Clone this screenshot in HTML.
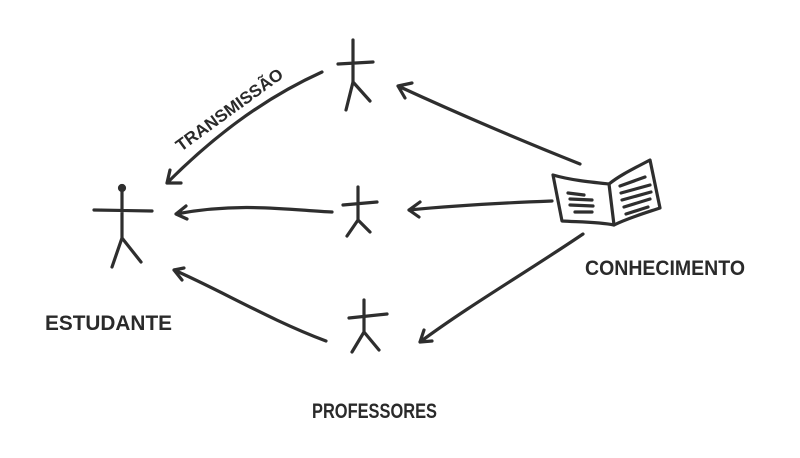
<!DOCTYPE html>
<html><head><style>
html,body{margin:0;padding:0;background:#fff;}
svg{display:block}
text{font-family:"Liberation Sans",sans-serif;fill:#2a2a2a;}
</style></head><body>
<svg width="800" height="458" viewBox="0 0 800 458" xmlns="http://www.w3.org/2000/svg">
<g stroke="#2e2e2e" stroke-width="3.2" fill="none" stroke-linecap="round" stroke-linejoin="round">
<!-- estudante -->
<circle cx="122" cy="188" r="2.5" fill="#2e2e2e"/>
<path d="M122 188 L122 238 M94 210 L152 211 M122 238 L112 267 M122 238 L141 262"/>
<!-- top prof -->
<path d="M353 40 L353 82 M338 64 L373 62 M353 82 L346 110 M353 82 L370 101"/>
<!-- mid prof -->
<path d="M358 187 L358 220 M343 205 L377 202 M358 220 L347 236 M358 220 L370 232"/>
<!-- bottom prof -->
<path d="M364 300 L364 332 M349 318 L387 314 M364 332 L352 352 M364 332 L379 350"/>
<!-- arrows -->
<path d="M322 72 C260 100 210 140 167 183 M167 183 L170 170 M167 183 L181 183"/>
<path d="M332 212 C290 210 240 202 176 214 M176 214 L186 206 M176 214 L187 219"/>
<path d="M326 341 C270 320 220 290 174 270 M174 270 L184 268 M174 270 L182 280"/>
<path d="M580 164 C520 140 450 110 398 86 M398 86 L412 83 M398 86 L405 98"/>
<path d="M552 201 C500 203 450 206 409 210 M409 210 L420 202 M409 210 L419 217"/>
<path d="M583 234 C530 270 470 305 420 342 M420 342 L424 330 M420 342 L432 341"/>
<!-- book -->
<path d="M553 175 C570 180 590 182 609 184 L614 225 C600 222 580 222 562 221 Z"/>
<path d="M609 184 C620 175 635 168 650 160 L660 208 C645 213 628 218 614 225"/>
<path d="M568 193 L584 195 M570 199 L592 200 M570 205 L593 206 M575 212 L592 212"/>
<path d="M620 186 L645 177 M621 193 L650 185 M622 200 L651 192 M624 207 L650 199 M626 214 L648 207"/>
</g>
<text x="45" y="330" font-size="21" font-weight="bold" textLength="127" lengthAdjust="spacingAndGlyphs">ESTUDANTE</text>
<text x="312" y="418" font-size="21" font-weight="bold" textLength="125" lengthAdjust="spacingAndGlyphs">PROFESSORES</text>
<text x="585" y="275" font-size="21" font-weight="bold" textLength="160" lengthAdjust="spacingAndGlyphs">CONHECIMENTO</text>
<text x="0" y="0" font-size="17" font-weight="bold" transform="translate(181 152) rotate(-36)" textLength="128" lengthAdjust="spacingAndGlyphs">TRANSMISSÃO</text>
</svg>
</body></html>
